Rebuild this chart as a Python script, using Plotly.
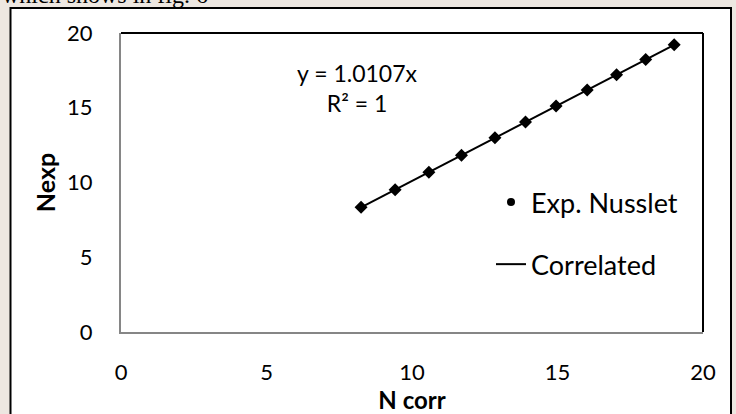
import plotly.graph_objects as go

# Data
n_corr = [8.25, 9.42, 10.58, 11.70, 12.85, 13.90, 14.95, 16.02, 17.03, 18.03, 19.01]
n_exp = [8.34, 9.52, 10.69, 11.83, 12.99, 14.05, 15.11, 16.19, 17.21, 18.22, 19.21]
x_ticks = [0, 5, 10, 15, 20]
y_ticks = [0, 5, 10, 15, 20]

W, H = 736, 414
L, R, T, B = 121, 33, 33, 82
PW, PH = W - L - R, H - T - B

def px(xp):
    return (xp - L) / PW

def py(yp):
    return (H - B - yp) / PH

FONT = "Lato"

fig = go.Figure()
# Correlated line
fig.add_trace(go.Scatter(x=n_corr, y=n_exp, mode="lines", name="Correlated",
                         line=dict(color="black", width=2), showlegend=False))
# Experimental points
fig.add_trace(go.Scatter(x=n_corr, y=n_exp, mode="markers", name="Exp. Nusslet",
                         marker=dict(symbol="diamond", size=10, color="black"),
                         showlegend=False))
# Legend entries
fig.add_trace(go.Scatter(x=[None], y=[None], mode="markers", name="Exp. Nusslet",
                         marker=dict(symbol="circle", size=8, color="black"),
                         legendgroup="a"))
fig.add_trace(go.Scatter(x=[None], y=[None], mode="lines", name="Correlated",
                         line=dict(color="black", width=2), legendgroup="b"))

fig.update_layout(
    width=W, height=H,
    margin=dict(l=L, r=R, t=T, b=B, pad=0, autoexpand=False),
    paper_bgcolor="#ede7e1",
    plot_bgcolor="white",
    font=dict(family=FONT, size=22, color="black"),
    legend=dict(x=px(491), y=py(178), xanchor="left", yanchor="top",
                bgcolor="rgba(0,0,0,0)", font=dict(size=27), tracegroupgap=24,
                itemwidth=30),
    xaxis=dict(range=[0, 20], tickvals=x_ticks, showgrid=False, zeroline=False,
               showline=True, linecolor="#868686", linewidth=2, ticks="",
               ticklabelstandoff=20, automargin=False,
               title=dict(text="<b>N corr</b>", standoff=18, font=dict(size=24))),
    yaxis=dict(range=[0, 20], tickvals=y_ticks, showgrid=False, zeroline=False,
               showline=True, linecolor="#868686", linewidth=2, ticks="",
               ticklabelstandoff=22, automargin=False,
               title=dict(text="<b>Nexp</b>", standoff=4, font=dict(size=25))),
    shapes=[
        dict(type="rect", xref="paper", yref="paper", x0=px(10.5), x1=px(731),
             y0=py(430), y1=py(8), line=dict(color="black", width=2),
             fillcolor="white", layer="below"),
        dict(type="line", xref="paper", yref="paper", x0=0, x1=1, y0=1, y1=1,
             line=dict(color="black", width=2)),
        dict(type="line", xref="paper", yref="paper", x0=1, x1=1, y0=0, y1=1,
             line=dict(color="black", width=2)),
    ],
    annotations=[
        dict(text="y = 1.0107x<br>R² = 1", xref="paper", yref="paper",
             x=px(357), y=py(88), xanchor="center", yanchor="middle",
             showarrow=False, align="center", font=dict(size=23)),
        dict(text="which shows in fig. 6", xref="paper", yref="paper",
             x=px(0), y=py(10), xanchor="left", yanchor="bottom",
             showarrow=False, font=dict(family="Liberation Serif", size=24)),
    ],
)

fig.write_html("out.html")
